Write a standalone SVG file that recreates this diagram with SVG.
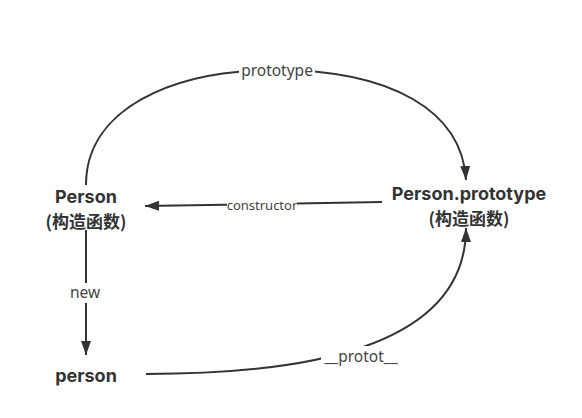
<svg xmlns="http://www.w3.org/2000/svg" width="582" height="418" viewBox="0 0 582 418">
<style>
.edge{fill:none;stroke:#333;stroke-width:2}
.node{font-family:Inter,"Noto Sans CJK SC",sans-serif;font-weight:bold;font-size:18px;fill:#333;text-anchor:middle}
.cjk{font-family:"Noto Sans CJK SC",sans-serif;font-size:17px}
.lbl{font-family:"Noto Sans","Noto Sans CJK SC",sans-serif;font-size:15.5px;fill:#444;text-anchor:middle}
.bg{fill:#fff}
</style>
<defs>
<marker id="arr" viewBox="0 0 14 10" refX="14" refY="5" markerWidth="14" markerHeight="10" markerUnits="userSpaceOnUse" orient="auto">
<path d="M0,0 L14,5 L0,10 Z" fill="#333"/>
</marker>
</defs>
<rect width="582" height="418" fill="#fff"/>
<g id="connectors">
<path class="edge" d="M86,185 C86,110 170,70 276,70 C390,70 462,110 466,180" marker-end="url(#arr)"/>
<path class="edge" d="M382,202 L145,206" marker-end="url(#arr)"/>
<path class="edge" d="M86,230 L86,355" marker-end="url(#arr)"/>
<path class="edge" d="M146,374 C300,374 466,350 466,228" marker-end="url(#arr)"/>
<rect class="bg" x="239" y="61" width="76" height="18"/>
<text class="lbl" x="277" y="76">prototype</text>
<rect class="bg" x="227" y="198" width="70" height="15"/>
<text class="lbl" x="262" y="210" style="font-size:13px">constructor</text>
<rect class="bg" x="68" y="283" width="36" height="20"/>
<text class="lbl" x="85" y="298">new</text>
<rect class="bg" x="321" y="346" width="80" height="20"/>
<text class="lbl" x="361" y="362">__protot__</text>
</g>
<g id="person-ctor">
<text class="node" x="86" y="203">Person</text>
<text class="node cjk" x="86" y="227.5">(构造函数)</text>
</g>
<g id="person-prototype">
<text class="node" x="469" y="200">Person.prototype</text>
<text class="node cjk" x="469" y="224.5">(构造函数)</text>
</g>
<g id="person-instance">
<text class="node" x="86" y="382">person</text>
</g>
</svg>
